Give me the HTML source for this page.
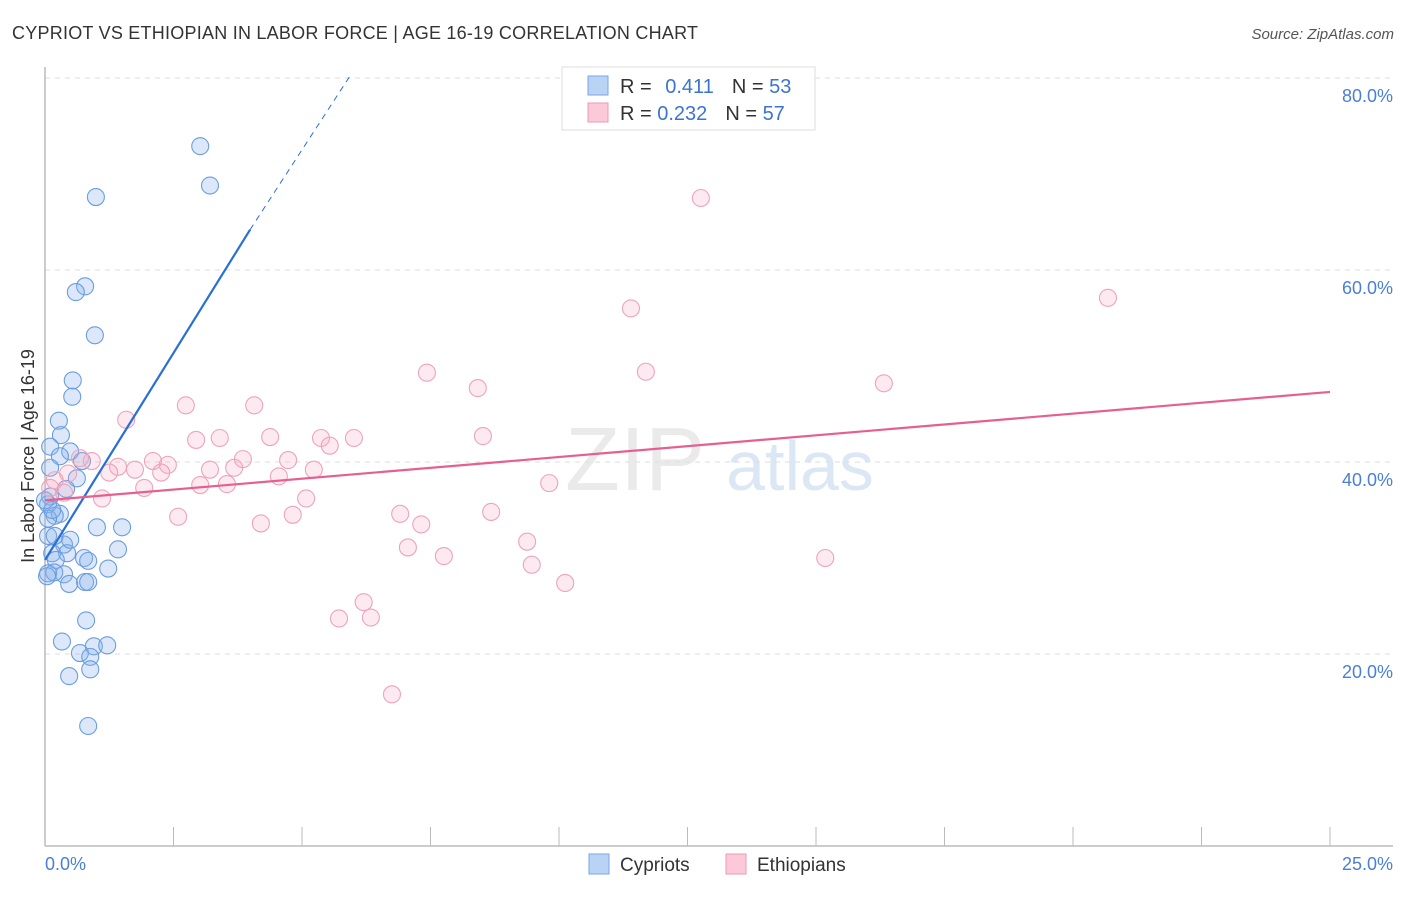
<!DOCTYPE html>
<html><head><meta charset="utf-8"><style>
body{margin:0;background:#fff;font-family:"Liberation Sans",sans-serif;}
svg text{font-family:"Liberation Sans",sans-serif;}
</style></head><body>
<svg id="chart" width="1406" height="892">
<text x="12" y="39" font-size="18" fill="#333" textLength="686">CYPRIOT VS ETHIOPIAN IN LABOR FORCE | AGE 16-19 CORRELATION CHART</text>
<text x="1394" y="39" font-size="15" fill="#555" font-style="italic" text-anchor="end">Source: ZipAtlas.com</text>
<text x="635" y="490" font-size="90" fill="#ddd" font-family="Liberation Serif" text-anchor="middle" opacity="0.6">ZIP</text>
<text x="800" y="490" font-size="70" fill="#c5d8f0" text-anchor="middle" opacity="0.6">atlas</text>
<g id="grid"></g><g id="axes"></g><g id="marks"></g>
<text transform="translate(34,456) rotate(-90)" font-size="18" fill="#333" text-anchor="middle">In Labor Force | Age 16-19</text>
<text x="45" y="870" font-size="18" fill="#4a7fd4">0.0%</text>
<text x="1393" y="870" font-size="18" fill="#4a7fd4" text-anchor="end">25.0%</text>
<rect x="589" y="854" width="20" height="20" fill="#b9d3f5" stroke="#7aa6e6"/>
<text x="620" y="871" font-size="19" fill="#333">Cypriots</text>
<rect x="726" y="854" width="20" height="20" fill="#fbc9d8" stroke="#ee9ab5"/>
<text x="757" y="871" font-size="19" fill="#333">Ethiopians</text>
<rect x="562" y="67" width="253" height="63" fill="#fff" stroke="#ddd"/>
<rect x="588" y="76" width="20" height="19" fill="#b9d3f5" stroke="#7aa6e6"/>
<rect x="588" y="103" width="20" height="19" fill="#fbc9d8" stroke="#ee9ab5"/>
<text x="620" y="93" font-size="20" fill="#333">R = <tspan fill="#3b74d0" dx="8">0.411</tspan><tspan dx="18">N = </tspan><tspan fill="#3b74d0">53</tspan></text>
<text x="620" y="120" font-size="20" fill="#333">R = <tspan fill="#3b74d0">0.232</tspan><tspan dx="18">N = </tspan><tspan fill="#3b74d0">57</tspan></text>
</svg>
<script>
const yTicks=[20,40,60,80];
const cypX=[3.02,3.21,0.99,0.78,0.6,0.97,0.54,0.53,0.27,0.31,0.1,0.49,0.29,0.72,0.62,0.41,0.1,0.06,0.29,0.19,0.06,1.01,1.5,0.37,1.42,0.14,0.43,0.76,0.84,0.21,1.23,0.37,0.06,0.18,0.47,0.78,0.84,0.8,0.33,0.95,1.21,0.68,0.88,0.88,0.47,0.84,0.1,0.06,0.19,0.14,0,0.04,0.49];
const cypY=[72.9,68.8,67.6,58.3,57.7,53.2,48.5,46.8,44.3,42.8,41.6,41.1,40.6,40.1,38.3,37.2,36.4,35.6,34.6,34.4,34.1,33.2,33.2,31.4,30.9,30.5,30.5,30,29.7,29.8,28.9,28.3,28.4,28.5,27.3,27.5,27.5,23.5,21.3,20.8,20.9,20.1,19.7,18.4,17.7,12.5,39.4,32.3,32.3,35,36,28.1,31.9];
const ethX=[12.76,20.68,11.4,11.69,7.43,8.42,16.32,1.58,2.74,4.07,2.94,3.4,4.38,5.37,6.01,5.54,8.52,0.91,0.68,2.1,1.42,1.25,1.75,2.39,2.26,3.21,3.68,3.85,4.73,5.23,4.55,3.02,3.54,1.93,0.45,0.19,0.37,1.11,5.08,2.59,4.2,4.82,6.91,7.32,8.68,9.81,7.06,7.76,9.38,9.47,15.18,10.12,6.2,5.72,6.34,6.75,0.1];
const ethY=[67.5,57.1,56,49.4,49.3,47.7,48.2,44.4,45.9,45.9,42.3,42.5,42.6,42.5,42.5,41.7,42.7,40.1,40.4,40.1,39.5,38.9,39.2,39.7,38.9,39.2,39.4,40.3,40.2,39.2,38.5,37.6,37.7,37.3,38.8,38.1,36.8,36.2,36.2,34.3,33.6,34.5,34.6,33.5,34.8,37.8,31.1,30.2,31.7,29.3,30,27.4,25.4,23.7,23.8,15.8,37.3];
const X=v=>45+v/25*1285, Y=v=>846-v*9.6;
const NS='http://www.w3.org/2000/svg';
function mk(p,t,a){const e=document.createElementNS(NS,t);for(const k in a)e.setAttribute(k,a[k]);document.getElementById(p).appendChild(e);return e;}
yTicks.forEach(t=>{
 const l=mk('grid','line',{x1:45,x2:1393,y1:Y(t),y2:Y(t),stroke:'#ddd','stroke-dasharray':'5,5'});
 
 
 const tx=mk('grid','text',{x:1393,y:Y(t)+24,'font-size':18,fill:'#4a7fd4','text-anchor':'end'});tx.textContent=t.toFixed(1)+'%';
 
 
});
const ax=mk('axes','line',{x1:45,x2:1393,y1:846,y2:846,stroke:'#bbb','stroke-width':1.5});


const ay=mk('axes','line',{x1:45,x2:45,y1:67,y2:846,stroke:'#bbb','stroke-width':1.5});


for(let i=1;i<=10;i++){const t=mk('axes','line',{x1:X(i*2.5),x2:X(i*2.5),y1:827,y2:846,stroke:'#bbb'});
 
 }
cypX.forEach((v,i)=>{const c=mk('marks','circle',{cx:X(v),cy:Y(cypY[i]),r:8.5,fill:'rgba(140,180,235,0.3)',stroke:'#6a9de0','stroke-width':1.1});
 
 });
ethX.forEach((v,i)=>{const c=mk('marks','circle',{cx:X(v),cy:Y(ethY[i]),r:8.5,fill:'rgba(245,170,195,0.25)',stroke:'#eea3bc','stroke-width':1.1});
 
 });
const t1=mk('marks','line',{x1:X(0),y1:Y(29.8),x2:X(3.99),y2:Y(64.2),stroke:'#2a6fd6','stroke-width':2.2});


const t2=mk('marks','line',{x1:X(3.99),y1:Y(64.2),x2:X(5.92),y2:Y(80.1),stroke:'#2a6fd6','stroke-width':1,'stroke-dasharray':'6,5'});


const t3=mk('marks','line',{x1:X(0),y1:Y(36.0),x2:X(25),y2:Y(47.3),stroke:'#e5608f','stroke-width':2.2});


</script>
</body></html>
